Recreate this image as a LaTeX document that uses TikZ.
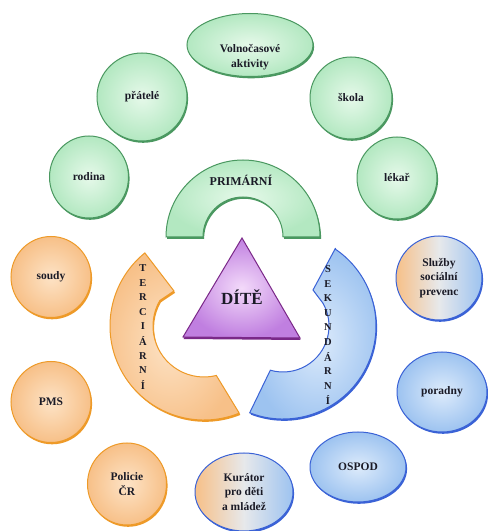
\documentclass[tikz,border=0pt]{standalone}
\usepackage{fontspec}
\setmainfont{Liberation Serif}
\usetikzlibrary{shapes.geometric,shadows}
\definecolor{gI}{HTML}{E6F9EA}
\definecolor{gO}{HTML}{B3E8C1}
\definecolor{gB}{HTML}{4A9860}
\definecolor{oI}{HTML}{FDE3C6}
\definecolor{oO}{HTML}{F7C088}
\definecolor{oB}{HTML}{EE9A28}
\definecolor{bI}{HTML}{DDEBFB}
\definecolor{bO}{HTML}{9DC3F0}
\definecolor{bB}{HTML}{3A62D6}
\definecolor{pI}{HTML}{F3DAFA}
\definecolor{pO}{HTML}{C07FE0}
\definecolor{pB}{HTML}{7A2888}
\definecolor{txt}{HTML}{1A1A26}
\begin{document}
\begin{tikzpicture}[x=1pt,y=1pt,
  lab/.style={font=\fontsize{11.5}{14.5}\selectfont\bfseries, text=txt, align=center, inner sep=0pt},
  vlet/.style={font=\fontsize{10.5}{12}\selectfont\bfseries, text=txt, inner sep=0pt},
  circ/.style={ellipse, inner sep=0pt, line width=1pt, lab},
  gsh/.style={drop shadow={shadow xshift=1.1pt, shadow yshift=-1.8pt, fill=gB, opacity=1}},
  osh/.style={drop shadow={shadow xshift=1.1pt, shadow yshift=-1.8pt, fill=oB, opacity=1}},
  bsh/.style={drop shadow={shadow xshift=1.1pt, shadow yshift=-1.8pt, fill=bB, opacity=1}},
  gcirc/.style={circ, draw=gB, inner color=gI, outer color=gO, gsh},
  ocirc/.style={circ, draw=oB, inner color=oI, outer color=oO, osh},
  bcirc/.style={circ, draw=bB, inner color=bI, outer color=bO, bsh},
  mcirc/.style={circ, draw=bB, left color=oO, right color=bO, middle color=bI!70!oI, bsh},
  sz/.style 2 args={minimum width=#1pt, minimum height=#2pt}
]
\useasboundingbox (0,0) rectangle (488,531);
\fill[white] (0,0) rectangle (488,531);

% green (primary) circles
\node[gcirc, sz={126}{63}] (vol) at (250,486) {};
\node[lab] (volt) at (250,474) {Volnočasové\\aktivity};
\node[gcirc, sz={90}{88}] (prat) at (142,434) {přátelé};
\node[gcirc, sz={82}{82}] (skola) at (351,433) {škola};
\node[gcirc, sz={79}{82}] (rodina) at (89,354) {rodina};
\node[gcirc, sz={80}{82}] (lekar) at (397,353) {lékař};

% PRIMÁRNÍ arch
\coordinate (ac) at (243,294);
\shadedraw[draw=gB, line width=1pt, inner color=gI, outer color=gO, gsh]
  ([shift={(0:77)}]ac) arc[start angle=0, end angle=180, radius=77]
  -- ([shift={(180:40)}]ac) arc[start angle=180, end angle=0, radius=40] -- cycle;
\node[font=\fontsize{12}{14}\selectfont\bfseries, text=txt] (prim) at (241,351) {PRIMÁRNÍ};

% TERCIÁRNÍ arc
\coordinate (oc) at (204,205);
\coordinate (obarb) at (174,240);
\shadedraw[draw=oB, line width=1pt, inner color=oI, outer color=oO, osh]
  ([shift={(129:94)}]oc) -- (obarb) -- ([shift={(150:51)}]oc)
  arc[start angle=150, end angle=284, radius=51]
  -- ([shift={(292:94)}]oc) arc[start angle=292, end angle=129, radius=94] -- cycle;
\foreach \l [count=\i from 0] in {T,E,R,C,I,Á,R,N,Í}
  \node[vlet] (ter\i) at (143,{263-14.6*\i}) {\l};

% SEKUNDÁRNÍ arc
\coordinate (bc) at (283,205);
\coordinate (bbarb) at (313,241);
\shadedraw[draw=bB, line width=1pt, inner color=bI, outer color=bO, bsh]
  ([shift={(56:94)}]bc) -- (bbarb) -- ([shift={(30:46)}]bc)
  arc[start angle=30, end angle=-106, radius=46]
  -- ([shift={(-111:93)}]bc) arc[start angle=-111, end angle=56, radius=93] -- cycle;
\foreach \l [count=\i from 0] in {S,E,K,U,N,D,Á,R,N,Í}
  \node[vlet] (sek\i) at (328,{262-14.6*\i}) {\l};

% DÍTĚ triangle
\coordinate (ta) at (242,293);
\coordinate (tr) at (300,193);
\coordinate (tl) at (183,194);
\shadedraw[draw=pB, line width=1pt, inner color=pI, outer color=pO,
  drop shadow={shadow xshift=0.6pt, shadow yshift=-2pt, fill=pB, opacity=1}]
  (ta) -- (tr) -- (tl) -- cycle;
\node[font=\fontsize{17}{19}\selectfont\bfseries, text=txt] (dite) at (242,234) {DÍTĚ};

% orange (tertiary) circles
\node[ocirc, sz={80}{81}] (soudy) at (51,254) {soudy};
\node[ocirc, sz={80}{81}] (pms) at (51,129) {PMS};
\node[ocirc, sz={79}{82}] (policie) at (127,47) {Policie\\ČR};

% blue (secondary) ellipses
\node[mcirc, sz={86}{84}] (sluzby) at (439,253) {Služby\\sociální\\prevenc};
\node[bcirc, sz={90}{80}] (poradny) at (442,139) {poradny};
\node[bcirc, sz={96}{70}] (ospod) at (358,64) {OSPOD};
\node[mcirc, sz={98}{78}] (kurator) at (244,39) {Kurátor\\pro děti\\a mládež};
\end{tikzpicture}
\end{document}
